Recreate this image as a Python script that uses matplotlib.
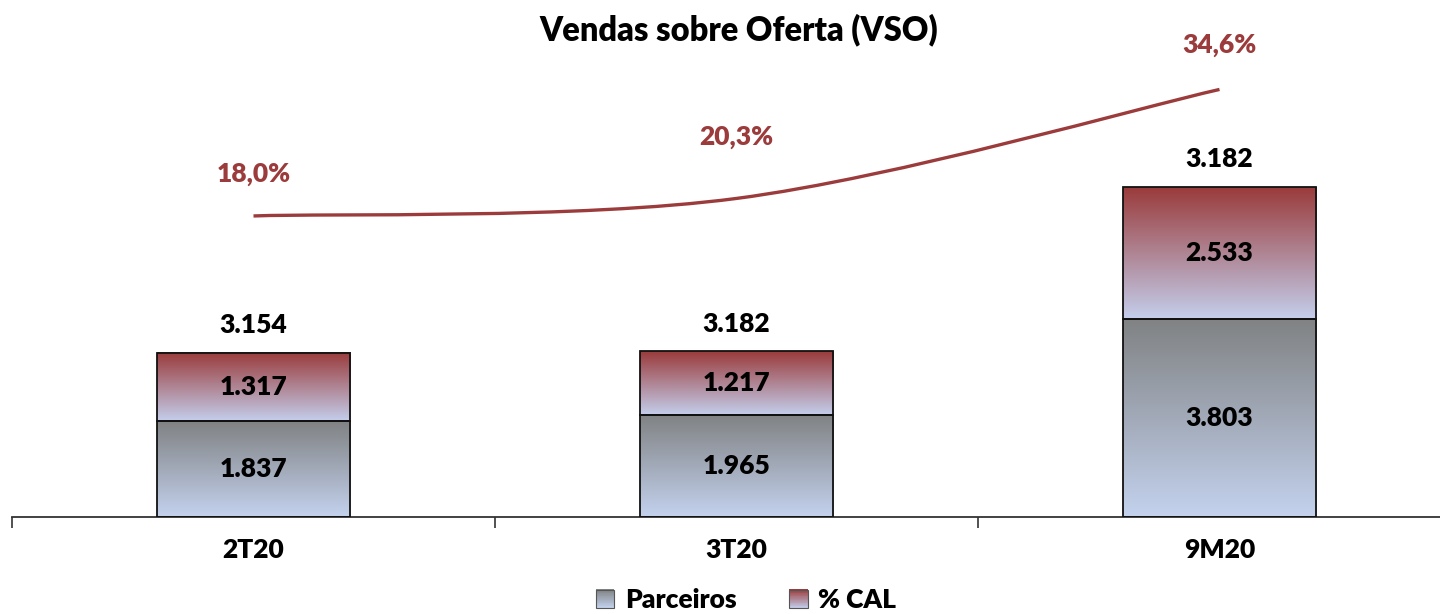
import matplotlib
matplotlib.use("Agg")
import matplotlib.pyplot as plt
import numpy as np
from matplotlib.path import Path
from matplotlib.patches import PathPatch, Rectangle
from matplotlib.legend_handler import HandlerBase

plt.rcParams["font.family"] = ["Lato", "DejaVu Sans"]
plt.rcParams["font.weight"] = 800

# data
periods = ["2T20", "3T20", "9M20"]
parceiros = [1837, 1965, 3803]
cal = [1317, 1217, 2533]
total_labels = ["3.154", "3.182", "3.182"]
vso = [18.0, 20.3, 34.6]

# colours (top of gradient, bottom of gradient)
grey_top, grey_bot = np.array([128, 130, 131]) / 255, np.array([196, 210, 238]) / 255
red_top, red_bot = np.array([154, 59, 59]) / 255, np.array([196, 206, 236]) / 255
line_col = "#9b3b3b"
FS = 19


def fmt(v):
    return "{:,}".format(v).replace(",", ".")


def pct(v):
    return "{:.1f}%".format(v).replace(".", ",")


def gradient(ax, x0, x1, y0, y1, top, bot):
    t = np.linspace(0, 1, 256)[:, None, None]
    img = bot[None, None, :] * (1 - t) + top[None, None, :] * t
    ax.imshow(img, extent=[x0, x1, y0, y1], origin="lower", aspect="auto",
              zorder=1, interpolation="bilinear")


class GradHandler(HandlerBase):
    def __init__(self, top, bot):
        super().__init__()
        self.top, self.bot = top, bot

    def create_artists(self, legend, orig_handle, xdescent, ydescent, width,
                       height, fontsize, trans):
        n = 24
        arts = []
        for k in range(n):
            t = (k + 0.5) / n
            c = self.bot * (1 - t) + self.top * t
            arts.append(Rectangle((-xdescent, -ydescent + k * height / n), width,
                                  height / n + 0.2, fc=c, ec="none", transform=trans))
        arts.append(Rectangle((-xdescent, -ydescent), width, height, fc="none",
                              ec="#555555", lw=0.8, transform=trans))
        return arts


W, H = 1440, 614
fig = plt.figure(figsize=(W / 100, H / 100), dpi=100)
ax_left, ax_bottom, ax_top = 12, 517, 30
ax = fig.add_axes([ax_left / W, 1 - ax_bottom / H, 1449 / W, (ax_bottom - ax_top) / H])

x = np.arange(len(periods))
bw = 0.4
ax.bar(x, parceiros, width=bw, facecolor="none", edgecolor="#111111",
       lw=1.3, zorder=3)
ax.bar(x, cal, bottom=parceiros, width=bw, facecolor="none",
       edgecolor="#111111", lw=1.3, zorder=3)

for i in range(len(periods)):
    gradient(ax, x[i] - bw / 2, x[i] + bw / 2, 0, parceiros[i], grey_top, grey_bot)
    gradient(ax, x[i] - bw / 2, x[i] + bw / 2, parceiros[i],
             parceiros[i] + cal[i], red_top, red_bot)
    ax.text(x[i], parceiros[i] / 2, fmt(parceiros[i]), ha="center", va="center",
            fontsize=FS, zorder=4)
    ax.text(x[i], parceiros[i] + cal[i] / 2, fmt(cal[i]), ha="center",
            va="center", fontsize=FS, zorder=4)
    ax.annotate(total_labels[i], (x[i], parceiros[i] + cal[i]),
                xytext=(0, 20), textcoords="offset points", ha="center",
                va="center", fontsize=FS)

ax.set_xlim(-0.5, 2.5)
ax.set_ylim(0, (ax_bottom - ax_top) / 0.05208)
ax.set_xticks(x)
ax.set_xticklabels(periods, fontsize=FS)
ax.set_xticks([-0.5, 0.5, 1.5, 2.5], minor=True)
ax.tick_params(axis="x", which="major", length=0, pad=15)
ax.tick_params(axis="x", which="minor", length=8, width=1.2, color="#333333")
ax.set_yticks([])
for s in ["top", "right", "left"]:
    ax.spines[s].set_visible(False)
ax.spines["bottom"].set_linewidth(1.3)
ax.spines["bottom"].set_color("#333333")

# secondary axis for VSO
ax2 = ax.twinx()
ax2.set_ylim(-21.5, 42.4)
ax2.axis("off")
pts = np.column_stack([x, vso]).astype(float)
ext = np.vstack([pts[0], pts, pts[-1]])
verts = [pts[0]]
codes = [Path.MOVETO]
for i in range(len(pts) - 1):
    p0, p1, p2, p3 = ext[i], ext[i + 1], ext[i + 2], ext[i + 3]
    verts += [p1 + (p2 - p0) / 6, p2 - (p3 - p1) / 6, p2]
    codes += [Path.CURVE4] * 3
ax2.add_patch(PathPatch(Path(verts, codes), fc="none", ec=line_col, lw=2.4,
                        capstyle="butt"))
label_offsets = [30, 44, 32]
for i, v in enumerate(vso):
    ax2.annotate(pct(v), (x[i], v), xytext=(0, label_offsets[i]),
                 textcoords="offset points", ha="center", va="center",
                 fontsize=FS, color=line_col)

fig.text(739 / W, 1 - 30 / H, "Vendas sobre Oferta (VSO)", ha="center",
         va="center", fontsize=23.5)

h1, h2 = Rectangle((0, 0), 1, 1), Rectangle((0, 0), 1, 1)
fig.legend([h1, h2], ["Parceiros", "% CAL"], loc="center",
           bbox_to_anchor=(746 / W, 1 - 600 / H), ncol=2, frameon=False,
           fontsize=FS, handlelength=0.7, handleheight=0.7, handletextpad=0.4,
           columnspacing=2.0, borderaxespad=0, borderpad=0,
           handler_map={h1: GradHandler(grey_top, grey_bot),
                        h2: GradHandler(red_top, red_bot)})

fig.savefig("out.png", dpi=100)
